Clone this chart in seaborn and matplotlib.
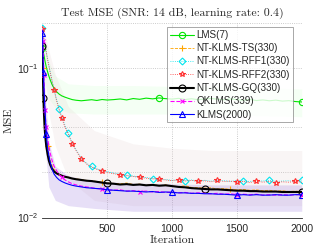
import numpy as np
import pandas as pd
import matplotlib
matplotlib.use('Agg')
import matplotlib.pyplot as plt
from matplotlib.ticker import FixedLocator, NullFormatter
import seaborn as sns

iters = [1, 4, 8, 12, 16, 20, 25, 30, 40, 50, 60, 75, 90, 110, 130, 150, 175, 200, 230, 260,
         300, 340, 380, 420, 460, 500,
         550, 600, 650, 700, 750, 800, 850, 900, 950, 1000, 1050, 1100, 1150, 1200, 1250,
         1300, 1350, 1400, 1450, 1500, 1550, 1600, 1650, 1700, 1750, 1800, 1850, 1900, 1950, 2000]

lms = [0.135, 0.131, 0.126, 0.121, 0.116, 0.111, 0.106, 0.101, 0.094, 0.088, 0.083, 0.077, 0.073,
       0.069, 0.0665, 0.0648, 0.0635, 0.0624, 0.0612, 0.0606, 0.0601, 0.0606, 0.0611, 0.0604, 0.0613, 0.0608,
       0.0612, 0.0618, 0.0609, 0.0622, 0.0615, 0.0626, 0.0619, 0.0628, 0.0621, 0.0617, 0.0624, 0.0613,
       0.0620, 0.0611, 0.0618, 0.0623, 0.0616, 0.0610, 0.0619, 0.0612, 0.0606, 0.0614, 0.0603, 0.0609,
       0.0601, 0.0607, 0.0598, 0.0602, 0.0594, 0.0590]
ts = [0.150, 0.100, 0.070, 0.056, 0.048, 0.043, 0.039, 0.035, 0.030, 0.0265, 0.0243, 0.0222, 0.0210,
      0.0200, 0.0195, 0.0191, 0.0188, 0.0186, 0.0183, 0.0181, 0.0179, 0.0177, 0.0176, 0.0174, 0.0172, 0.0170,
      0.0169, 0.0168, 0.0170, 0.0166, 0.0167, 0.0164, 0.0166, 0.0163, 0.0165, 0.0162, 0.0161, 0.0163,
      0.0159, 0.0158, 0.0157, 0.0158, 0.0155, 0.0156, 0.0154, 0.0153, 0.0154, 0.0152, 0.0153, 0.0151,
      0.0152, 0.0150, 0.0151, 0.0149, 0.0150, 0.0149]
rff1 = [0.185, 0.172, 0.163, 0.156, 0.149, 0.143, 0.136, 0.128, 0.115, 0.104, 0.094, 0.082, 0.072,
        0.061, 0.053, 0.047, 0.041, 0.0365, 0.0315, 0.0283, 0.0248, 0.0230, 0.0219, 0.0211, 0.0207, 0.0202,
        0.0198, 0.0195, 0.0191, 0.0189, 0.0186, 0.0185, 0.0182, 0.0181, 0.0179, 0.0177, 0.0178, 0.0176,
        0.0178, 0.0175, 0.0177, 0.0175, 0.0176, 0.0176, 0.0174, 0.0177, 0.0175, 0.0174, 0.0176, 0.0175,
        0.0177, 0.0174, 0.0175, 0.0176, 0.0174, 0.0178]
rff2 = [0.180, 0.170, 0.162, 0.155, 0.148, 0.142, 0.135, 0.126, 0.113, 0.103, 0.093, 0.081, 0.071,
        0.060, 0.052, 0.046, 0.040, 0.036, 0.031, 0.028, 0.0245, 0.0228, 0.0216, 0.0210, 0.0205, 0.0200,
        0.0196, 0.0193, 0.0190, 0.0188, 0.0185, 0.0183, 0.0181, 0.0180, 0.0178, 0.0176, 0.0179, 0.0175,
        0.0177, 0.0174, 0.0176, 0.0173, 0.0177, 0.0174, 0.0175, 0.0172, 0.0174, 0.0171, 0.0175, 0.0172,
        0.0174, 0.0171, 0.0173, 0.0172, 0.0174, 0.0172]
gq = [0.140, 0.090, 0.063, 0.050, 0.042, 0.037, 0.033, 0.030, 0.0265, 0.0240, 0.0225, 0.0211, 0.0203,
      0.0197, 0.0193, 0.0190, 0.0187, 0.0185, 0.0182, 0.0180, 0.0178, 0.0176, 0.0175, 0.0173, 0.0171, 0.0169,
      0.0168, 0.0166, 0.0167, 0.0165, 0.0166, 0.0164, 0.0165, 0.0163, 0.0164, 0.0162, 0.0160, 0.0159,
      0.0157, 0.0156, 0.0155, 0.0154, 0.0154, 0.0153, 0.0152, 0.0151, 0.0151, 0.0150, 0.0150, 0.0149,
      0.0149, 0.0149, 0.0148, 0.0148, 0.0148, 0.0148]
qklms = [0.180, 0.150, 0.118, 0.090, 0.068, 0.052, 0.045, 0.040, 0.034, 0.030, 0.027, 0.024, 0.022,
         0.0205, 0.0193, 0.0185, 0.0178, 0.0173, 0.0168, 0.0165, 0.0162, 0.0160, 0.0158, 0.0156, 0.0155, 0.0153,
         0.0152, 0.0153, 0.0150, 0.0151, 0.0149, 0.0150, 0.0148, 0.0149, 0.0147, 0.0148, 0.0146, 0.0147,
         0.0145, 0.0146, 0.0145, 0.0144, 0.0145, 0.0143, 0.0144, 0.0142, 0.0143, 0.0142, 0.0143, 0.0141,
         0.0142, 0.0141, 0.0142, 0.0141, 0.0142, 0.0142]
klms = [0.170, 0.125, 0.094, 0.075, 0.062, 0.053, 0.044, 0.036, 0.029, 0.026, 0.0235, 0.021, 0.0195,
        0.0185, 0.0178, 0.0174, 0.0170, 0.0167, 0.0164, 0.0162, 0.0160, 0.0158, 0.0157, 0.0156, 0.0155, 0.0153,
        0.0152, 0.0151, 0.0150, 0.0150, 0.0149, 0.0148, 0.0149, 0.0147, 0.0148, 0.0147, 0.0146, 0.0146,
        0.0145, 0.0145, 0.0144, 0.0144, 0.0143, 0.0143, 0.0142, 0.0141, 0.0142, 0.0141, 0.0142, 0.0141,
        0.0141, 0.0142, 0.0141, 0.0141, 0.0142, 0.0142]

# spread bands (coarse)
band_iters = [1, 20, 50, 100, 200, 400, 700, 1000, 1300, 1600, 2000]
lms_lo = [0.10, 0.08, 0.062, 0.054, 0.050, 0.049, 0.049, 0.049, 0.049, 0.048, 0.047]
lms_hi = [0.17, 0.14, 0.11, 0.088, 0.078, 0.076, 0.076, 0.075, 0.075, 0.074, 0.072]
rff_lo = [0.12, 0.08, 0.05, 0.03, 0.018, 0.013, 0.012, 0.012, 0.012, 0.012, 0.012]
rff_hi = [0.20, 0.17, 0.13, 0.09, 0.055, 0.038, 0.031, 0.029, 0.028, 0.028, 0.028]
klms_lo = [0.10, 0.030, 0.016, 0.013, 0.012, 0.0115, 0.011, 0.011, 0.011, 0.011, 0.011]
klms_hi = [0.20, 0.070, 0.032, 0.022, 0.019, 0.0175, 0.017, 0.0168, 0.0165, 0.0165, 0.0165]

labels = ['LMS(7)', 'NT-KLMS-TS(330)', 'NT-KLMS-RFF1(330)', 'NT-KLMS-RFF2(330)',
          'NT-KLMS-GQ(330)', 'QKLMS(339)', 'KLMS(2000)']

sns.set_style('white')
plt.rcParams['font.family'] = ['Liberation Sans', 'DejaVu Sans']

fig = plt.figure(figsize=(3.32, 2.49), dpi=100)
ax = fig.add_axes([0.128, 0.1265, 0.781, 0.783])

ax.fill_between(band_iters, lms_lo, lms_hi, color='#00ff00', alpha=0.045, lw=0)
ax.fill_between(band_iters, rff_lo, rff_hi, color='#e0c8c8', alpha=0.18, lw=0)
ax.fill_between(band_iters, klms_lo, klms_hi, color='#9370db', alpha=0.22, lw=0)


def marks(points):
    # nearest sample index for each marker position
    return [min(range(len(iters)), key=lambda i: abs(iters[i] - p)) for p in points]


styles = [
    (lms, '#00e600', 'o', '-', 0.8, 4.5, marks([1, 900, 2000])),
    (ts, '#ffa500', '+', '--', 0.6, 5, marks([4, 40, 450, 1450])),
    (rff1, '#00e5ee', 'D', ':', 0.6, 3.5, marks([1, 130, 200, 380, 650, 850, 1100, 1550, 1750, 2000])),
    (rff2, '#ff3030', '*', ':', 0.6, 4, marks([1, 90, 150, 230, 300, 460, 600, 750, 900, 1050,
                                              1200, 1350, 1500, 1650, 1800, 1950])),
    (gq, 'black', 'o', '-', 1.5, 5, marks([1, 8, 500, 1250, 2000])),
    (qklms, '#ff00ff', 'x', '--', 0.8, 3.5, marks([4, 12, 20, 30, 150, 460, 750, 1500, 2000])),
    (klms, '#0000ff', '^', '-', 0.8, 5, marks([1, 8, 30, 500, 1000, 1500, 2000])),
]

for (vals, col, mk, ls, lw, ms, me), lab in zip(styles, labels):
    sns.lineplot(x=iters, y=vals, ax=ax, color=col, marker=mk, linestyle=ls, lw=lw,
                 markersize=ms, markevery=me, markerfacecolor='none', markeredgecolor=col,
                 markeredgewidth=0.8, label=lab, sort=False)

ax.set_yscale('log')
ax.set_xlim(1, 2000)
ax.set_ylim(0.01, 0.2)
ax.set_xticks([500, 1000, 1500, 2000])
ax.set_yticks([0.01, 0.1])
ax.yaxis.set_minor_locator(FixedLocator([0.02, 0.04, 0.2]))
ax.yaxis.set_minor_formatter(NullFormatter())
ax.tick_params(which='both', length=0, labelsize=7.5, colors='#262626')
ax.tick_params(axis='x', pad=5)
ax.tick_params(axis='y', pad=3)
ax.grid(True, which='both', ls=':', color='#bbbbbb', lw=0.6)

for s in ['top', 'right', 'left']:
    ax.spines[s].set_visible(False)
ax.spines['bottom'].set_color('#262626')
ax.spines['bottom'].set_linewidth(0.6)

ax.set_title('Test MSE (SNR: 14 dB, learning rate: 0.4)', family='cmr10', fontsize=8.5, pad=5)
ax.set_xlabel('Iteration', family='cmr10', fontsize=8.5, labelpad=1)
ax.set_ylabel('MSE', family='cmr10', fontsize=8.5, labelpad=2)

leg = ax.legend(loc='upper right', bbox_to_anchor=(0.966, 0.977), borderaxespad=0,
                fontsize=7.1, frameon=True, fancybox=False, edgecolor='#808080',
                handlelength=2.4, handletextpad=0.3, labelspacing=0.33, borderpad=0.3)
leg.get_frame().set_linewidth(0.6)

fig.savefig('out.png', dpi=100)
